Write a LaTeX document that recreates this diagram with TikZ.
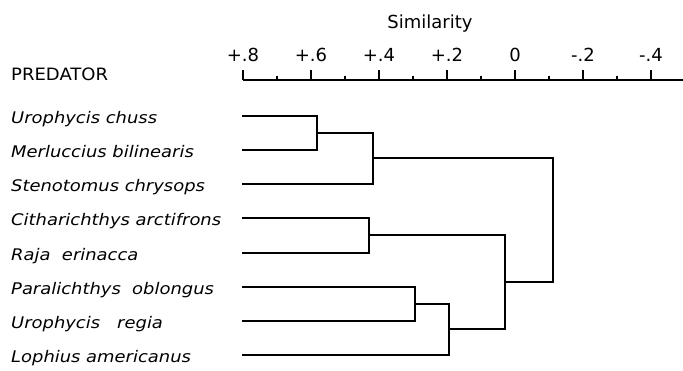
\documentclass[tikz,border=0pt]{standalone}
\usepackage{fontspec}
\usepackage{graphicx}
\newfontfamily\labfont[FakeStretch=1.12]{DejaVu Sans}
\newfontfamily\headfont[FakeStretch=1.06]{DejaVu Sans}
\newfontfamily\axfont{DejaVu Sans}
\begin{document}
\begin{tikzpicture}[x=1pt,y=-1pt,
  species/.style={anchor=base west,inner sep=0pt,font=\labfont\itshape\fontsize{16}{18}\selectfont},
  ticklab/.style={anchor=center,inner sep=0pt,font=\axfont\fontsize{18}{20}\selectfont},
  branch/.style={line width=2pt,line join=miter,line cap=rect},
  axisline/.style={line width=1.3pt}]
\useasboundingbox (0,0) rectangle (683,370);

% title and header
\node[ticklab] (sim) at (430,24) {Similarity};
\node[anchor=base west,inner sep=0pt,font=\headfont\fontsize{17}{19}\selectfont] (pred) at (11,80) {PREDATOR};

% axis
\coordinate (ax0) at (243,80);
\coordinate (ax1) at (683,80);
\draw[axisline] (ax0) -- (ax1);
\foreach \k/\t in {0/{+.8},1/{+.6},2/{+.4},3/{+.2},4/{0},5/{-.2},6/{-.4}}{
  \draw[axisline] (243+68*\k,80) -- ++(0,-10);
  \node[ticklab] (t\k) at (243+68*\k,55) {\t};
}
\foreach \k in {0,...,5}{
  \draw[axisline] (277+68*\k,80) -- ++(0,-4);
}

% leaves
\foreach \i/\y in {1/116,2/150,3/184,4/218,5/253,6/287,7/321,8/355}{
  \coordinate (l\i) at (243,\y);
}
\node[species] (n1) at (11,123.5) {Urophycis chuss};
\node[species] (n2) at (11,157.5) {Merluccius bilinearis};
\node[species] (n3) at (11,191.5) {Stenotomus chrysops};
\node[species] (n4) at (11,225.5) {Citharichthys arctifrons};
\node[species] (n5) at (11,260.5) {Raja\ \ erinacca};
\node[species] (n6) at (11,294.5) {Paralichthys\ \ oblongus};
\node[species] (n7) at (11,328.5) {Urophycis\ \ \ regia};
\node[species] (n8) at (11,362.5) {Lophius americanus};

% joins
\coordinate (jA) at (317,133);
\coordinate (jB) at (373,158);
\coordinate (jC) at (369,235);
\coordinate (jD) at (415,304);
\coordinate (jE) at (449,329);
\coordinate (jF) at (505,282);
\coordinate (jG) at (553,220);

\draw[branch] (l1) -| (jA) |- (l2);
\draw[branch] (jA) -| (jB) |- (l3);
\draw[branch] (l4) -| (jC) |- (l5);
\draw[branch] (l6) -| (jD) |- (l7);
\draw[branch] (jD) -| (jE) |- (l8);
\draw[branch] (jC) -| (jF) |- (jE);
\draw[branch] (jB) -| (jG |- jB) -- (jG |- jF) -- (jF);
\end{tikzpicture}
\end{document}
